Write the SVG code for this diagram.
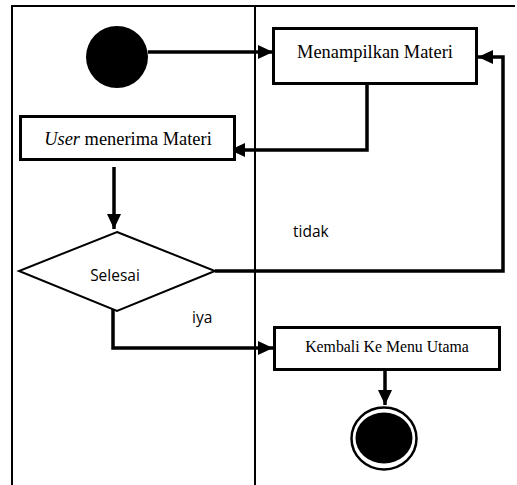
<svg xmlns="http://www.w3.org/2000/svg" width="517" height="485" viewBox="0 0 517 485">
<style>
.lane{stroke:#000;stroke-width:2;fill:none}
.box{fill:#fff;stroke:#000;stroke-width:3}
.conn{fill:none;stroke:#000;stroke-width:3.5}
.serif{font-family:"Liberation Serif","Times New Roman",serif;fill:#000}
.sans{font-family:"Open Sans","Liberation Sans",Arial,sans-serif;font-size:15.5px;fill:#000}
</style>
<defs>
<marker id="arr" markerWidth="15" markerHeight="14" refX="15" refY="7" orient="auto" markerUnits="userSpaceOnUse">
<path d="M0,0 L15,7 L0,14 Z" fill="#000"/>
</marker>
</defs>
<rect width="517" height="485" fill="#fff"/>
<g id="swimlanes">
<path class="lane" d="M12,485 V6 H515"/>
<path class="lane" d="M255,6 V485"/>
</g>
<g id="connectors">
<path class="conn" d="M148,52 H273" marker-end="url(#arr)"/>
<path class="conn" d="M367,78 V150 H230" marker-end="url(#arr)"/>
<path class="conn" d="M114,167 V229" marker-end="url(#arr)"/>
<path class="conn" d="M215,271 H503 V57 H478" marker-end="url(#arr)"/>
<path class="conn" d="M113,305 V348 H273" marker-end="url(#arr)"/>
<path class="conn" d="M385,370 V405" marker-end="url(#arr)"/>
</g>
<g id="start">
<circle cx="117" cy="57" r="31" fill="#000"/>
</g>
<g id="menampilkan">
<rect class="box" x="273.5" y="28.5" width="203" height="55"/>
<text class="serif" x="375" y="58" font-size="18.4" text-anchor="middle">Menampilkan Materi</text>
</g>
<g id="user-menerima">
<rect class="box" x="20.5" y="116.5" width="214" height="43"/>
<text class="serif" x="128" y="145" font-size="18.4" text-anchor="middle"><tspan font-style="italic">User</tspan> menerima Materi</text>
</g>
<g id="selesai">
<polygon points="117,232 215,271 117,311 19,271" fill="#fff" stroke="#000" stroke-width="2"/>
<text class="sans" x="115" y="281" text-anchor="middle">Selesai</text>
</g>
<text class="sans" x="293" y="237">tidak</text>
<text class="sans" x="192" y="323">iya</text>
<g id="kembali">
<rect class="box" x="274.5" y="327.5" width="225" height="42"/>
<text class="serif" x="387" y="352" font-size="15.8" text-anchor="middle">Kembali Ke Menu Utama</text>
</g>
<g id="end">
<ellipse cx="384" cy="438.5" rx="32.5" ry="31" fill="#fff" stroke="#000" stroke-width="2.5"/>
<ellipse cx="384" cy="438" rx="28.5" ry="25.5" fill="#000"/>
</g>
</svg>
